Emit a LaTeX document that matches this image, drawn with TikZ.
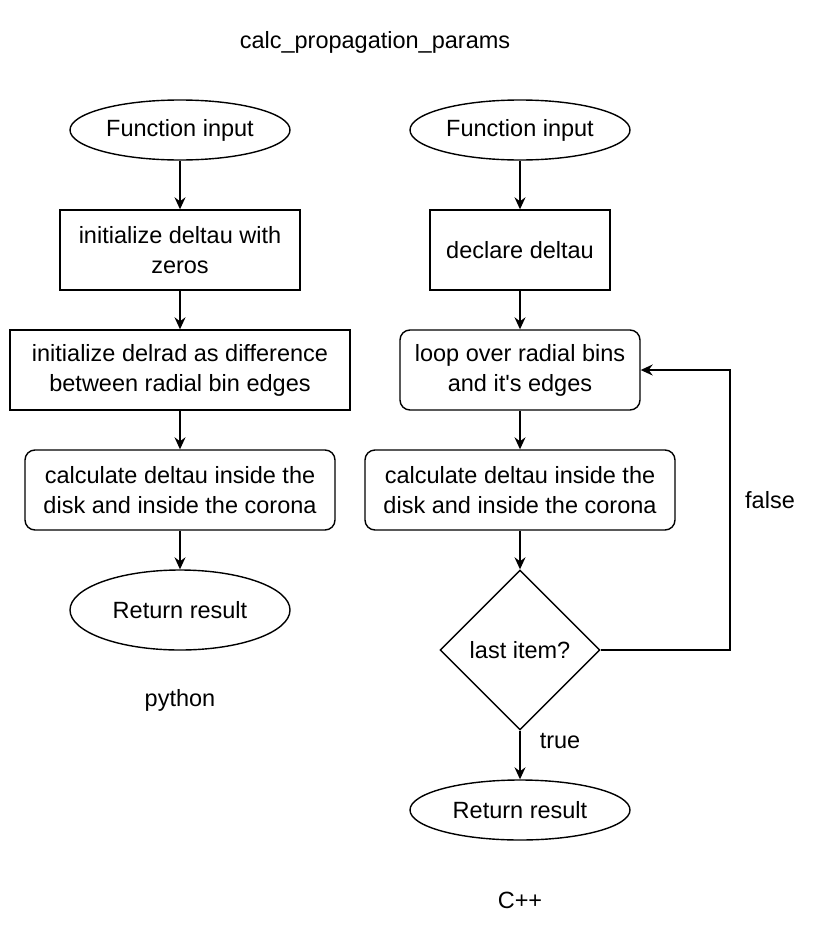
\documentclass[tikz,border=0pt]{standalone}
\usepackage{fontspec}
\setmainfont{Liberation Sans}
\usetikzlibrary{shapes.geometric,arrows.meta}
\begin{document}
\begin{tikzpicture}[x=1pt,y=-1pt,
  every node/.style={font=\fontsize{23.5}{30}\selectfont, align=center, inner sep=0pt},
  term/.style={draw, ellipse, line width=1.4pt, minimum width=220pt, minimum height=60pt},
  proc/.style={draw, rectangle, line width=1.4pt, minimum height=80pt},
  rproc/.style={proc, rounded corners=10pt},
  dec/.style={draw, diamond, line width=1.4pt, minimum width=160pt, minimum height=160pt, aspect=1},
  conn/.style={line width=1.4pt, -{Stealth[length=12pt,width=11pt,inset=4pt]}},
  lbl/.style={}
]
\useasboundingbox (0,0) rectangle (822,940);
\node[lbl] (title) at (375,42) {calc\_propagation\_params};
% left
\node[term] (l1) at (180,130) {Function input};
\node[proc, minimum width=240pt] (l2) at (180,250) {initialize deltau with\\zeros};
\node[proc, minimum width=340pt] (l3) at (180,370) {initialize delrad as difference\\between radial bin edges};
\node[rproc, minimum width=310pt] (l4) at (180,490) {calculate deltau inside the\\disk and inside the corona};
\node[term, minimum height=80pt] (l5) at (180,610) {Return result};
\node[lbl] (py) at (180,700) {python};
\draw[conn] (l1) -- (l2);
\draw[conn] (l2) -- (l3);
\draw[conn] (l3) -- (l4);
\draw[conn] (l4) -- (l5);
% right
\node[term] (r1) at (520,130) {Function input};
\node[proc, minimum width=180pt] (r2) at (520,250) {declare deltau};
\node[rproc, minimum width=240pt] (r3) at (520,370) {loop over radial bins\\and it\textquotesingle s edges};
\node[rproc, minimum width=310pt] (r4) at (520,490) {calculate deltau inside the\\disk and inside the corona};
\node[dec] (r5) at (520,650) {last item?};
\node[term] (r6) at (520,810) {Return result};
\node[lbl] (cpp) at (520,900) {C++};
\coordinate (c1) at (730,650);
\coordinate (c2) at (730,370);
\draw[conn] (r1) -- (r2);
\draw[conn] (r2) -- (r3);
\draw[conn] (r3) -- (r4);
\draw[conn] (r4) -- (r5);
\draw[conn] (r5) -- (r6);
\draw[conn] (r5.east) -- (c1) -- (c2) -- (r3.east);
\node[lbl] (false) at (770,500) {false};
\node[lbl] (true) at (560,741) {true};
\end{tikzpicture}
\end{document}
